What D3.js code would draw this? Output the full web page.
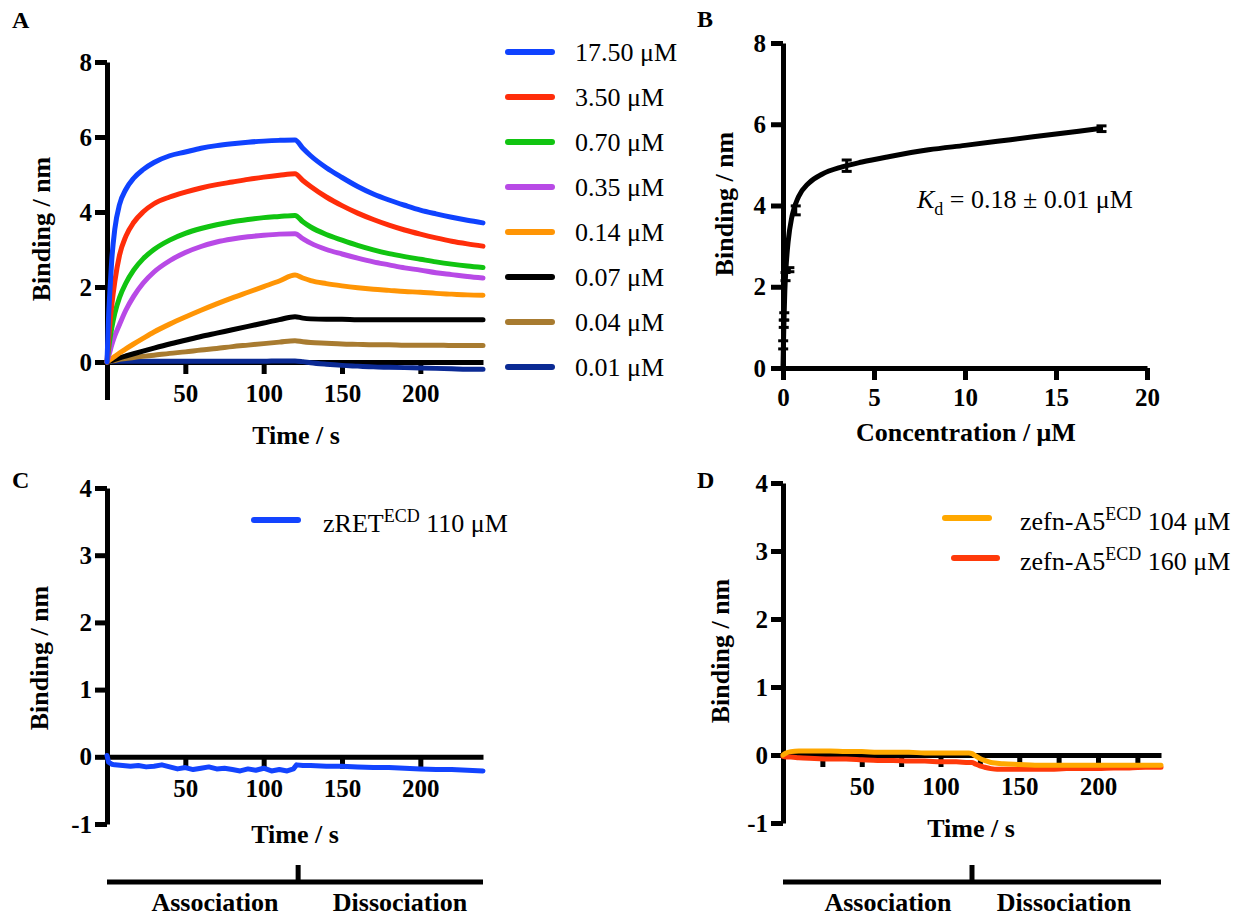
<!DOCTYPE html>
<html>
<head>
<meta charset="utf-8">
<script src="https://cdn.jsdelivr.net/npm/d3@7/dist/d3.min.js"></script>
<style>
  html, body { margin: 0; padding: 0; background: #fff; }
  svg { display: block; }
  text { font-family: "Liberation Serif", "Times New Roman", serif; }
</style>
</head>
<body>
<svg id="chart" width="1243" height="917"></svg>
<script>
// ---------------- Panel A: association / dissociation kinetics ----------------
const timesA = [0,1,2,3,5,8,12,17,23,30,40,50,60,70,80,90,100,110,120,125,130,140,150,160,170,180,190,200,210,220,230,240];
const concLabelsA = ["17.50 μM","3.50 μM","0.70 μM","0.35 μM","0.14 μM","0.07 μM","0.04 μM","0.01 μM"];
const colorsA = ["#0f42ff","#ff2d0a","#11c411","#b84ae6","#ff9505","#000000","#a87b30","#0b2a94"];
const s1750 = [0,1.2,2.0,2.7,3.55,4.2,4.6,4.9,5.13,5.32,5.5,5.6,5.7,5.77,5.82,5.86,5.89,5.91,5.92, 5.7,5.5,5.18,4.92,4.68,4.48,4.32,4.18,4.05,3.95,3.86,3.78,3.71];
const s350  = [0,0.6,1.1,1.5,2.15,2.85,3.35,3.72,4.0,4.22,4.4,4.53,4.64,4.73,4.8,4.87,4.93,4.98,5.02, 4.84,4.68,4.4,4.17,3.97,3.8,3.65,3.52,3.41,3.31,3.22,3.15,3.09];
const s070  = [0,0.35,0.65,0.9,1.3,1.72,2.1,2.45,2.75,3.0,3.25,3.43,3.56,3.66,3.74,3.8,3.85,3.88,3.91, 3.74,3.6,3.4,3.25,3.11,2.99,2.89,2.81,2.74,2.67,2.61,2.56,2.52];
const s035  = [0,0.15,0.3,0.45,0.7,1.0,1.38,1.75,2.1,2.4,2.7,2.92,3.08,3.2,3.28,3.34,3.38,3.41,3.42, 3.29,3.17,3.0,2.88,2.77,2.67,2.59,2.51,2.45,2.38,2.33,2.28,2.24];
const s014  = [0,0.03,0.06,0.09,0.15,0.24,0.35,0.48,0.63,0.8,1.01,1.2,1.38,1.55,1.71,1.86,2.01,2.16,2.32, 2.24,2.17,2.09,2.03,1.98,1.94,1.91,1.88,1.86,1.83,1.81,1.79,1.78];
const s007  = [0,0.01,0.03,0.04,0.07,0.11,0.16,0.22,0.29,0.37,0.48,0.58,0.68,0.77,0.86,0.95,1.04,1.13,1.21, 1.17,1.15,1.14,1.14,1.13,1.13,1.13,1.13,1.13,1.13,1.13,1.13,1.13];
const s004  = [0,0.01,0.02,0.03,0.04,0.07,0.09,0.12,0.15,0.18,0.23,0.27,0.32,0.36,0.41,0.45,0.49,0.53,0.57, 0.54,0.52,0.5,0.48,0.47,0.46,0.46,0.45,0.45,0.45,0.44,0.44,0.44];
const s001  = [0,0.01,0.01,0.02,0.02,0.02,0.02,0.02,0.02,0.02,0.02,0.02,0.02,0.02,0.02,0.02,0.02,0.03,0.03, 0.01,-0.02,-0.06,-0.09,-0.11,-0.13,-0.14,-0.15,-0.16,-0.17,-0.18,-0.19,-0.19];
const seriesA = [s1750, s350, s070, s035, s014, s007, s004, s001];
const yTicksA = [0,2,4,6,8];
const xTicksTime = [50,100,150,200];

// ---------------- Panel B: steady-state binding ----------------
const concB = [0.01,0.04,0.07,0.14,0.35,0.70,3.50,17.50];
const meanB = [0.57,1.09,1.27,2.25,2.42,3.88,4.98,5.89];
const errB  = [0.10,0.09,0.09,0.10,0.05,0.11,0.14,0.07];
const fitConcB = [0,0.02,0.05,0.1,0.17,0.28,0.5,0.86,1.41,2.14,3.24,4.34,5.8,8,10,12.5,15,17.5];
const fitBindB = [0,0.5,1.1,1.9,2.5,3.1,3.75,4.22,4.55,4.77,4.95,5.07,5.2,5.37,5.48,5.62,5.76,5.9];
const xTicksB = [0,5,10,15,20];
const yTicksB = [0,2,4,6,8];

// ---------------- Panel C: zRET ECD ----------------
const timesC = [0,1,3,5,10,15,20,25,30,35,40,45,50,55,60,65,70,75,80,85,90,95,100,105,110,115,119,121,125,130,140,150,160,170,180,190,200,210,220,230,240];
const valsC  = [0.02,-0.08,-0.11,-0.12,-0.13,-0.14,-0.13,-0.15,-0.14,-0.12,-0.15,-0.18,-0.16,-0.19,-0.17,-0.15,-0.18,-0.17,-0.19,-0.21,-0.18,-0.2,-0.17,-0.21,-0.19,-0.21,-0.18,-0.12,-0.13,-0.13,-0.14,-0.14,-0.15,-0.16,-0.16,-0.17,-0.18,-0.19,-0.19,-0.2,-0.21];

// ---------------- Panel D: zefn-A5 ECD ----------------
const timesD = [0,2,5,10,20,30,40,50,60,70,80,90,100,110,118,120,122,125,128,132,136,140,150,160,170,180,190,200,210,220,230,240];
const d104 = [0,0.03,0.05,0.06,0.06,0.06,0.05,0.05,0.04,0.04,0.04,0.03,0.03,0.03,0.03,0.02,-0.01,-0.05,-0.08,-0.11,-0.12,-0.13,-0.14,-0.15,-0.15,-0.15,-0.15,-0.15,-0.15,-0.15,-0.15,-0.15];
const d160 = [-0.02,-0.03,-0.03,-0.04,-0.05,-0.06,-0.06,-0.07,-0.08,-0.08,-0.09,-0.09,-0.1,-0.1,-0.11,-0.11,-0.13,-0.16,-0.18,-0.2,-0.21,-0.21,-0.21,-0.21,-0.21,-0.2,-0.2,-0.2,-0.19,-0.19,-0.18,-0.18];
const yTicksCD = [-1,0,1,2,3,4];
const xTicksD = [25,50,75,100,125,150,175,200,225];
const xLabelsD = [50,100,150,200];

// ================= drawing =================
const svg = d3.select("#chart");
const AXW = 5;

function styleAxis(g) {
  g.select(".domain").attr("stroke", "#000").attr("stroke-width", AXW);
  g.selectAll(".tick line").attr("stroke", "#000").attr("stroke-width", AXW);
  g.selectAll(".tick text")
    .attr("font-family", "Liberation Serif, Times New Roman, serif")
    .attr("font-weight", "bold").attr("font-size", 25).attr("fill", "#000");
  g.attr("font-family", null).attr("font-size", null);
}

function yAxis(x0, y, ticks, pad) {
  const g = svg.append("g").attr("transform", `translate(${x0},0)`)
    .call(d3.axisLeft(y).tickValues(ticks).tickSize(12).tickSizeOuter(0).tickPadding(pad).tickFormat(d => String(d)));
  styleAxis(g);
  return g;
}
function xAxis(y0, x, ticks, labels, pad) {
  const g = svg.append("g").attr("transform", `translate(0,${y0})`)
    .call(d3.axisBottom(x).tickValues(ticks).tickSize(12).tickSizeOuter(0).tickPadding(pad)
      .tickFormat(d => labels.includes(d) ? String(d) : ""));
  styleAxis(g);
  return g;
}
function title(text, x, y, rotate) {
  const t = svg.append("text").attr("font-weight", "bold").attr("font-size", 26)
    .attr("text-anchor", "middle").attr("fill", "#000").text(text);
  if (rotate) t.attr("transform", `translate(${x},${y}) rotate(-90)`);
  else t.attr("x", x).attr("y", y);
}
function panelLabel(text, x, y) {
  svg.append("text").attr("x", x).attr("y", y).attr("font-weight", "bold")
    .attr("font-size", 24).attr("fill", "#000").text(text);
}

// ---- Panel A ----
{
  const x = d3.scaleLinear().domain([0, 240]).range([107, 483]);
  const y = d3.scaleLinear().domain([-1, 8]).range([399.5, 62]);
  yAxis(107, y, yTicksA, 3);
  xAxis(y(0), x, xTicksTime, xTicksTime, 10);
  const line = d3.line().x((d, i) => x(timesA[i])).y(d => y(d)).curve(d3.curveMonotoneX);
  seriesA.slice().reverse().forEach((s, k) => {
    const i = seriesA.length - 1 - k;
    svg.append("path").attr("d", line(s)).attr("fill", "none")
      .attr("stroke", colorsA[i]).attr("stroke-width", 5).attr("stroke-linejoin", "round").attr("stroke-linecap", "round");
  });
  title("Time / s", 296, 444, false);
  title("Binding / nm", 50, 229, true);
  panelLabel("A", 12, 28);
  // legend
  concLabelsA.forEach((lab, i) => {
    const ly = 52 + i * 45;
    svg.append("line").attr("x1", 508).attr("x2", 552).attr("y1", ly).attr("y2", ly)
      .attr("stroke", colorsA[i]).attr("stroke-width", 6).attr("stroke-linecap", "round");
    svg.append("text").attr("x", 575).attr("y", ly + 9).attr("font-size", 26).attr("fill", "#000").text(lab);
  });
}

// ---- Panel B ----
{
  const x = d3.scaleLinear().domain([0, 20]).range([783, 1147]);
  const y = d3.scaleLinear().domain([0, 8]).range([368, 43]);
  yAxis(783, y, yTicksB, 5);
  xAxis(368, x, xTicksB, xTicksB, 8);
  // error bars
  concB.forEach((c, i) => {
    const cx = x(c), y1 = y(meanB[i] - errB[i]), y2 = y(meanB[i] + errB[i]);
    svg.append("line").attr("x1", cx).attr("x2", cx).attr("y1", y1).attr("y2", y2).attr("stroke", "#000").attr("stroke-width", 3);
    [y1, y2].forEach(yy => svg.append("line").attr("x1", cx - 5).attr("x2", cx + 5).attr("y1", yy).attr("y2", yy)
      .attr("stroke", "#000").attr("stroke-width", 3));
  });
  const line = d3.line().x((d, i) => x(fitConcB[i])).y(d => y(d)).curve(d3.curveMonotoneX);
  svg.append("path").attr("d", line(fitBindB)).attr("fill", "none").attr("stroke", "#000")
    .attr("stroke-width", 5).attr("stroke-linejoin", "round");
  title("Concentration / μM", 966, 441, false);
  title("Binding / nm", 733, 204, true);
  panelLabel("B", 697, 27);
  const t = svg.append("text").attr("x", 917).attr("y", 208).attr("font-size", 26).attr("fill", "#000");
  t.append("tspan").attr("font-style", "italic").text("K");
  t.append("tspan").attr("font-size", 18).attr("dy", 7).text("d");
  t.append("tspan").attr("dy", -7).text(" = 0.18 ± 0.01 μM");
}

function bracket(x, yLine, tBreak, assocX, dissocX) {
  svg.append("line").attr("x1", x.range()[0]).attr("x2", x.range()[1]).attr("y1", yLine).attr("y2", yLine)
    .attr("stroke", "#000").attr("stroke-width", AXW);
  svg.append("line").attr("x1", x(tBreak)).attr("x2", x(tBreak)).attr("y1", yLine - 17).attr("y2", yLine)
    .attr("stroke", "#000").attr("stroke-width", AXW);
  title("Association", assocX, 911, false);
  title("Dissociation", dissocX, 911, false);
}
function supLegend(x, y, name, rest, color, lx1, lx2, ly) {
  svg.append("line").attr("x1", lx1).attr("x2", lx2).attr("y1", ly).attr("y2", ly)
    .attr("stroke", color).attr("stroke-width", 6).attr("stroke-linecap", "round");
  const t = svg.append("text").attr("x", x).attr("y", y).attr("font-size", 26).attr("fill", "#000");
  t.append("tspan").text(name);
  t.append("tspan").attr("font-size", 18).attr("dy", -10).text("ECD");
  t.append("tspan").attr("dy", 10).text(rest);
}

// ---- Panel C ----
{
  const x = d3.scaleLinear().domain([0, 240]).range([107, 483]);
  const y = d3.scaleLinear().domain([-1, 4]).range([824, 488]);
  yAxis(107, y, yTicksCD, 3);
  xAxis(y(0), x, xTicksTime, xTicksTime, 10);
  const line = d3.line().x((d, i) => x(timesC[i])).y(d => y(d));
  svg.append("path").attr("d", line(valsC)).attr("fill", "none").attr("stroke", "#1344ff")
    .attr("stroke-width", 5).attr("stroke-linejoin", "round").attr("stroke-linecap", "round");
  title("Time / s", 295, 843, false);
  title("Binding / nm", 48, 658, true);
  panelLabel("C", 12, 488);
  supLegend(323, 532, "zRET", " 110 μM", "#1344ff", 254, 298, 520);
  bracket(x, 882, 122, 215, 400);
}

// ---- Panel D ----
{
  const x = d3.scaleLinear().domain([0, 240]).range([783, 1161]);
  const y = d3.scaleLinear().domain([-1, 4]).range([823, 483]);
  yAxis(783, y, yTicksCD, 3);
  xAxis(y(0), x, xTicksD, xLabelsD, 10);
  const line = d3.line().x((d, i) => x(timesD[i])).y(d => y(d)).curve(d3.curveMonotoneX);
  svg.append("path").attr("d", line(d160)).attr("fill", "none").attr("stroke", "#ff3a0a")
    .attr("stroke-width", 5).attr("stroke-linejoin", "round").attr("stroke-linecap", "round");
  svg.append("path").attr("d", line(d104)).attr("fill", "none").attr("stroke", "#ffa800")
    .attr("stroke-width", 5).attr("stroke-linejoin", "round").attr("stroke-linecap", "round");
  title("Time / s", 971, 837, false);
  title("Binding / nm", 729, 651, true);
  panelLabel("D", 697, 488);
  supLegend(1020, 530, "zefn-A5", " 104 μM", "#ffa800", 945, 989, 518);
  supLegend(1020, 570, "zefn-A5", " 160 μM", "#ff3a0a", 954, 997, 558);
  bracket(x, 882, 120, 888, 1064);
}
</script>
</body>
</html>
